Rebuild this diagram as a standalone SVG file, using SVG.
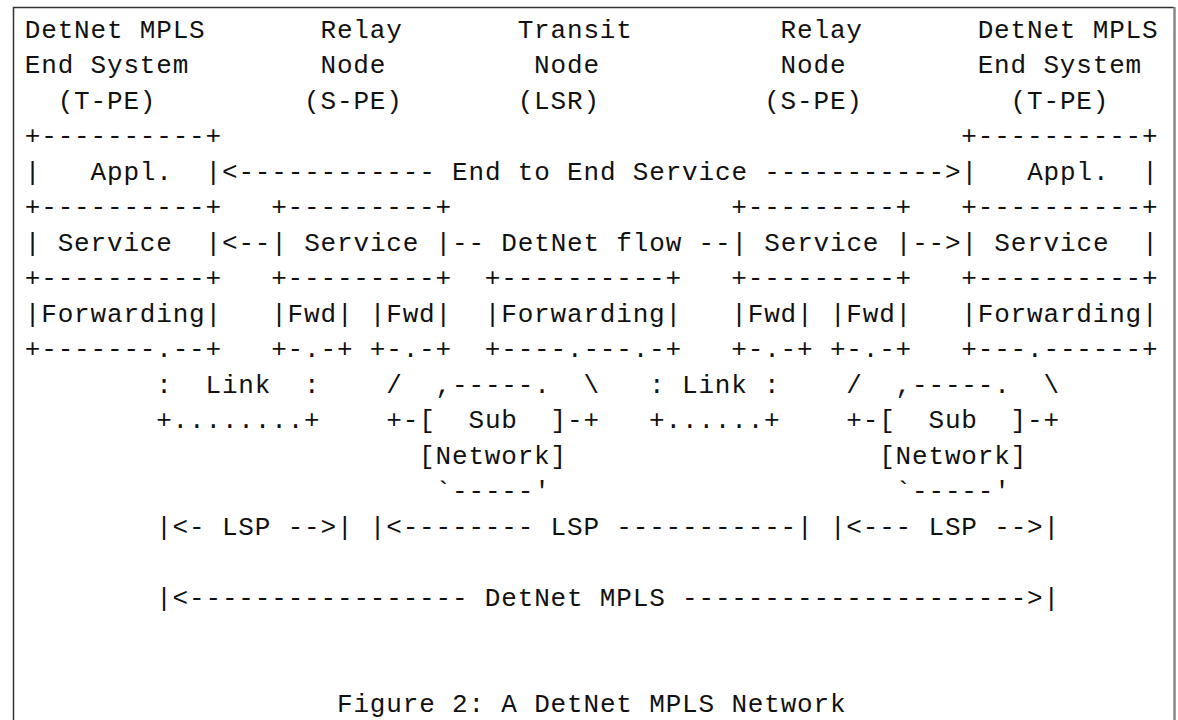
<svg xmlns="http://www.w3.org/2000/svg" width="1178" height="720" viewBox="0 0 1178 720" xml:space="preserve">
<style>
text{font-family:"Liberation Mono","DejaVu Sans Mono",monospace;font-size:26px;letter-spacing:0.83px;fill:#111;white-space:pre}
</style>
<rect x="0" y="0" width="1178" height="720" fill="#fff"/>
<g id="frame" fill="none">
<path d="M13.5,720 V7.5 H1174" stroke="#333" stroke-width="1.5"/>
<path d="M1174.5,7 V720" stroke="#888" stroke-width="2.5"/>
</g>
<g id="header">
<text x="24.8" y="37.5">DetNet MPLS</text><text x="320.5" y="37.5">Relay</text><text x="517.7" y="37.5">Transit</text><text x="780.6" y="37.5">Relay</text><text x="977.7" y="37.5">DetNet MPLS</text>
<text x="24.8" y="73">End System</text><text x="320.5" y="73">Node</text><text x="534.1" y="73">Node</text><text x="780.6" y="73">Node</text><text x="977.7" y="73">End System</text>
<text x="57.7" y="108.5">(T-PE)</text><text x="304.1" y="108.5">(S-PE)</text><text x="517.7" y="108.5">(LSR)</text><text x="764.2" y="108.5">(S-PE)</text><text x="1010.6" y="108.5">(T-PE)</text>
</g>
<g id="stacks">
<text x="24.8" y="144">+----------+</text><text x="961.3" y="144">+----------+</text>
<text x="24.8" y="179.5">|   Appl.  |&lt;------------ End to End Service -----------&gt;|   Appl.  |</text>
<text x="24.8" y="215">+----------+</text><text x="271.2" y="215">+---------+</text><text x="731.3" y="215">+---------+</text><text x="961.3" y="215">+----------+</text>
<text x="24.8" y="250.5">| Service  |&lt;--| Service |-- DetNet flow --| Service |--&gt;| Service  |</text>
<text x="24.8" y="286">+----------+</text><text x="271.2" y="286">+---------+</text><text x="484.8" y="286">+----------+</text><text x="731.3" y="286">+---------+</text><text x="961.3" y="286">+----------+</text>
<text x="24.8" y="321.5">|Forwarding|</text><text x="271.2" y="321.5">|Fwd| |Fwd|</text><text x="484.8" y="321.5">|Forwarding|</text><text x="731.3" y="321.5">|Fwd| |Fwd|</text><text x="961.3" y="321.5">|Forwarding|</text>
<text x="24.8" y="357">+-------.--+</text><text x="271.2" y="357">+-.-+ +-.-+</text><text x="484.8" y="357">+----.---.-+</text><text x="731.3" y="357">+-.-+ +-.-+</text><text x="961.3" y="357">+---.------+</text>
</g>
<g id="links">
<text x="156.2" y="392.5">:  Link  :</text><text x="386.3" y="392.5">/  ,-----.  \</text><text x="649.1" y="392.5">: Link :</text><text x="846.3" y="392.5">/  ,-----.  \</text>
<text x="156.2" y="428">+........+</text><text x="386.3" y="428">+-[  Sub  ]-+</text><text x="649.1" y="428">+......+</text><text x="846.3" y="428">+-[  Sub  ]-+</text>
<text x="419.1" y="463.5">[Network]</text><text x="879.2" y="463.5">[Network]</text>
<text x="435.6" y="499">`-----'</text><text x="895.6" y="499">`-----'</text>
</g>
<g id="spans">
<text x="156.2" y="534.5">|&lt;- LSP --&gt;|</text><text x="369.8" y="534.5">|&lt;-------- LSP -----------|</text><text x="829.9" y="534.5">|&lt;--- LSP --&gt;|</text>
<text x="156.2" y="605.5">|&lt;----------------- DetNet MPLS ---------------------&gt;|</text>
</g>
<text id="caption" x="337.0" y="712">Figure 2: A DetNet MPLS Network</text>
</svg>
